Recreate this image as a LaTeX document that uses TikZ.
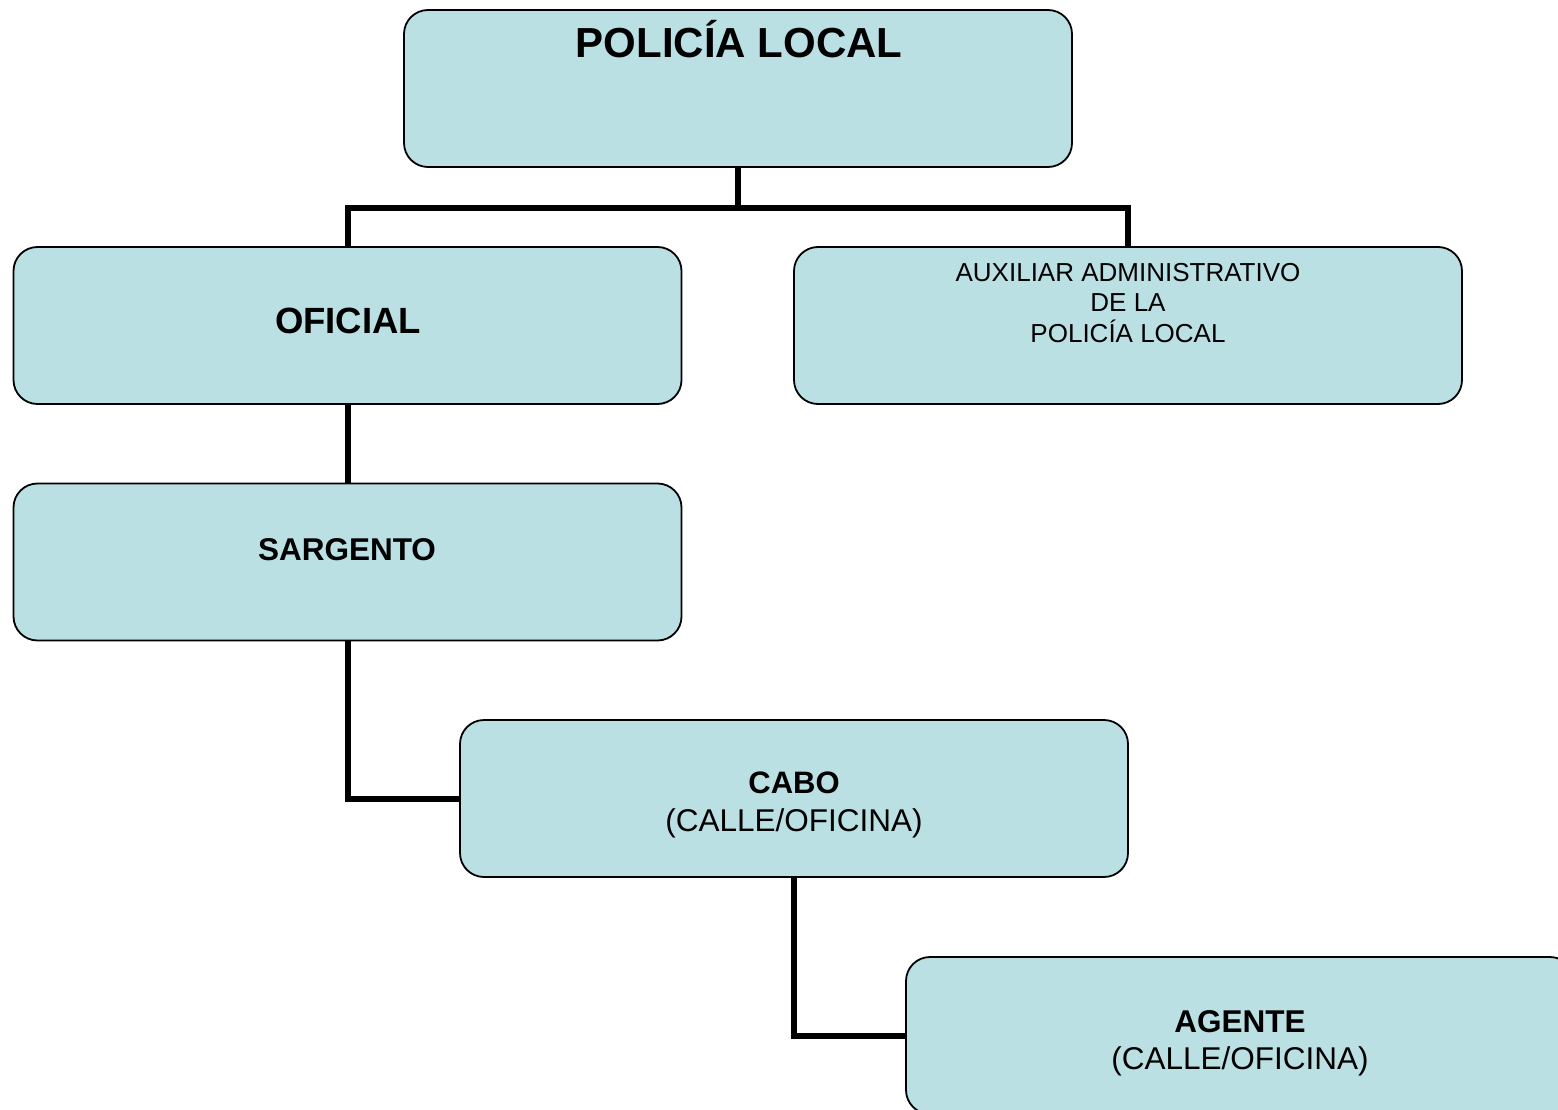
\documentclass[tikz,border=0pt]{standalone}
\usepackage{fontspec}
\setmainfont{Liberation Sans}
\definecolor{boxfill}{RGB}{187,224,227}
\begin{document}
\begin{tikzpicture}[x=1pt,y=-1pt,
  orgbox/.style={draw=black,line width=1.8pt,fill=boxfill,rounded corners=24pt,
    minimum width=668pt,minimum height=157pt,inner sep=0pt},
  link/.style={draw=black,line width=6pt},
  txt/.style={inner sep=0pt,anchor=base}]
\useasboundingbox (0,0) rectangle (1558,1110);
\clip (0,0) rectangle (1558,1110);
% boxes
\node[orgbox] (top) at (738,88.5) {};
\node[orgbox] (oficial) at (347.5,325.5) {};
\node[orgbox] (aux) at (1128,325.5) {};
\node[orgbox] (sarg) at (347.5,562) {};
\node[orgbox] (cabo) at (794,798.5) {};
\node[orgbox] (agente) at (1240,1035.5) {};
% connectors
\draw[link] (top.south) -- ++(0,40) -| (oficial.north);
\draw[link] (top.south) -- ++(0,40) -| (aux.north);
\draw[link] (oficial.south) -- (sarg.north);
\draw[link] (sarg.south) |- (cabo.west);
\draw[link] (cabo.south) |- (agente.west);
% texts
\node[txt,font=\fontsize{42}{48}\selectfont\bfseries] (ttop) at (739,58) {POLICÍA LOCAL};
\node[txt,font=\fontsize{36.5}{42}\selectfont\bfseries] (tofi) at (348,333) {OFICIAL};
\node[txt,font=\fontsize{26}{30}\selectfont] (taux1) at (1128,281) {AUXILIAR ADMINISTRATIVO};
\node[txt,font=\fontsize{26}{30}\selectfont] (taux2) at (1128,311.5) {DE LA};
\node[txt,font=\fontsize{26}{30}\selectfont] (taux3) at (1128,342) {POLICÍA LOCAL};
\node[txt,font=\fontsize{31.5}{36}\selectfont\bfseries] (tsarg) at (347,560) {SARGENTO};
\node[txt,font=\fontsize{31}{36}\selectfont\bfseries] (tcabo1) at (794,793) {CABO};
\node[txt,font=\fontsize{31.5}{36}\selectfont] (tcabo2) at (794,831) {(CALLE/OFICINA)};
\node[txt,font=\fontsize{31.5}{36}\selectfont\bfseries] (tage1) at (1240,1032) {AGENTE};
\node[txt,font=\fontsize{31.5}{36}\selectfont] (tage2) at (1240,1069) {(CALLE/OFICINA)};
\end{tikzpicture}
\end{document}
